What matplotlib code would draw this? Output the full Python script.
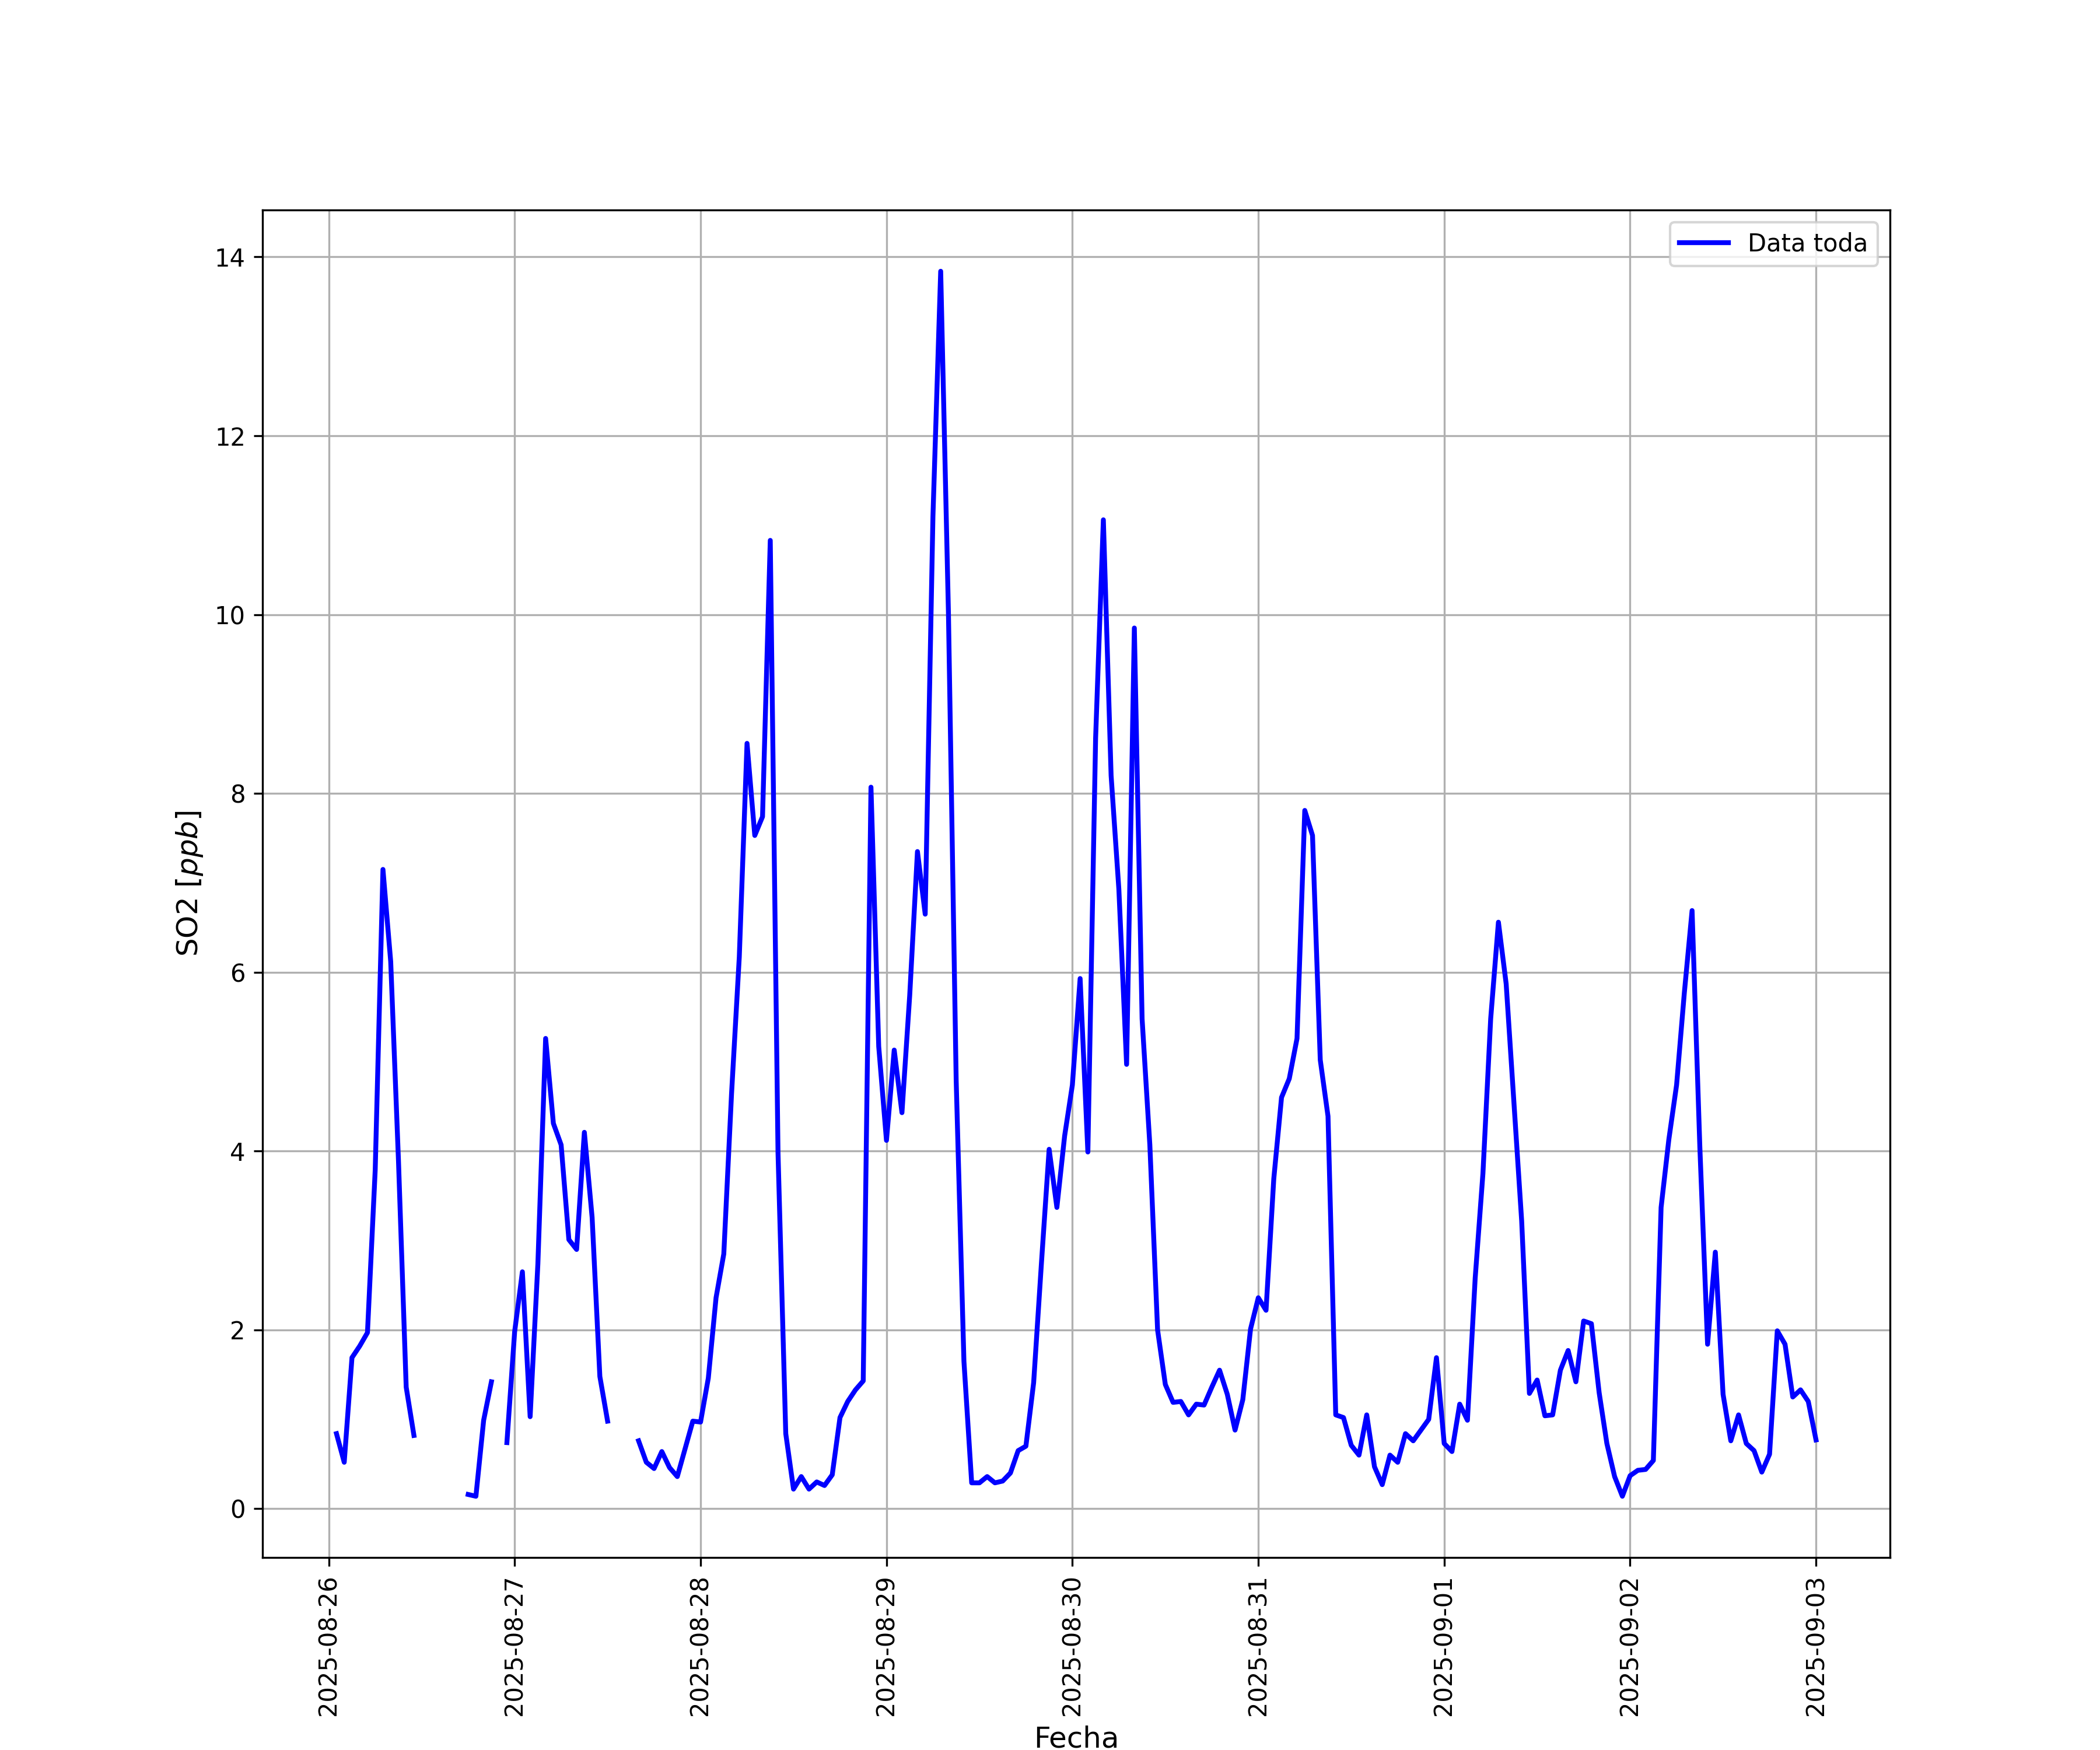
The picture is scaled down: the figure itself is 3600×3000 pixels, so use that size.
import numpy as np
import pandas as pd
import matplotlib
matplotlib.use("Agg")
import matplotlib.pyplot as plt
import matplotlib.dates as mdates

nan = np.nan
# Hourly SO2 values [ppb]; first value is 2025-08-26 01:00
day_0826 = [0.84, 0.52, 1.69, 1.82, 1.97, 3.79, 7.15, 6.12, 3.90, 1.36, 0.82,
            nan, nan, nan, nan, nan, nan, 0.16, 0.14, 0.99, 1.42, nan, 0.74]
day_0827 = [1.98, 2.65, 1.03, 2.74, 5.26, 4.31, 4.07, 3.01, 2.90, 4.21, 3.26, 1.48,
            0.98, nan, nan, nan, 0.76, 0.52, 0.45, 0.64, 0.46, 0.36, 0.67, 0.98]
day_0828 = [0.97, 1.46, 2.36, 2.85, 4.64, 6.17, 8.56, 7.53, 7.74, 10.83, 3.98, 0.84,
            0.22, 0.36, 0.22, 0.30, 0.26, 0.38, 1.02, 1.20, 1.33, 1.43, 8.07, 5.17]
day_0829 = [4.12, 5.13, 4.43, 5.74, 7.35, 6.65, 11.10, 13.84, 10.02, 4.79, 1.65, 0.29,
            0.29, 0.36, 0.29, 0.31, 0.40, 0.65, 0.70, 1.41, 2.74, 4.02, 3.37, 4.17]
day_0830 = [4.74, 5.93, 3.99, 8.62, 11.06, 8.20, 6.93, 4.97, 9.85, 5.48, 4.07, 2.00,
            1.39, 1.19, 1.20, 1.05, 1.17, 1.16, 1.36, 1.55, 1.28, 0.88, 1.22, 2.01]
day_0831 = [2.36, 2.22, 3.69, 4.60, 4.81, 5.26, 7.81, 7.53, 5.02, 4.39, 1.05, 1.02,
            0.71, 0.60, 1.05, 0.47, 0.27, 0.60, 0.52, 0.84, 0.76, 0.88, 1.00, 1.69]
day_0901 = [0.73, 0.64, 1.17, 0.99, 2.58, 3.75, 5.48, 6.56, 5.87, 4.55, 3.22, 1.29,
            1.44, 1.04, 1.05, 1.55, 1.77, 1.42, 2.10, 2.07, 1.30, 0.73, 0.36, 0.14]
day_0902 = [0.37, 0.43, 0.44, 0.54, 3.37, 4.13, 4.74, 5.77, 6.69, 4.05, 1.84, 2.87,
            1.28, 0.76, 1.05, 0.73, 0.65, 0.41, 0.61, 1.99, 1.84, 1.25, 1.33, 1.20]
day_0903 = [0.77]

values = day_0826 + day_0827 + day_0828 + day_0829 + day_0830 + day_0831 + day_0901 + day_0902 + day_0903
fechas = pd.date_range("2025-08-26 01:00", periods=len(values), freq="h")

fig = plt.figure(figsize=(12, 10), dpi=300)
ax = fig.add_subplot(111)
ax.plot(fechas, values, color="blue", linewidth=2, label="Data toda")
ax.set_xlabel("Fecha", fontsize=12)
ax.set_ylabel("SO2 [$ppb$]", fontsize=12)
ax.xaxis.set_major_locator(mdates.DayLocator())
ax.xaxis.set_major_formatter(mdates.DateFormatter("%Y-%m-%d"))
plt.setp(ax.get_xticklabels(), rotation=90)
ax.grid(True)
ax.legend(loc="upper right")
fig.savefig("out.png", dpi=300)
